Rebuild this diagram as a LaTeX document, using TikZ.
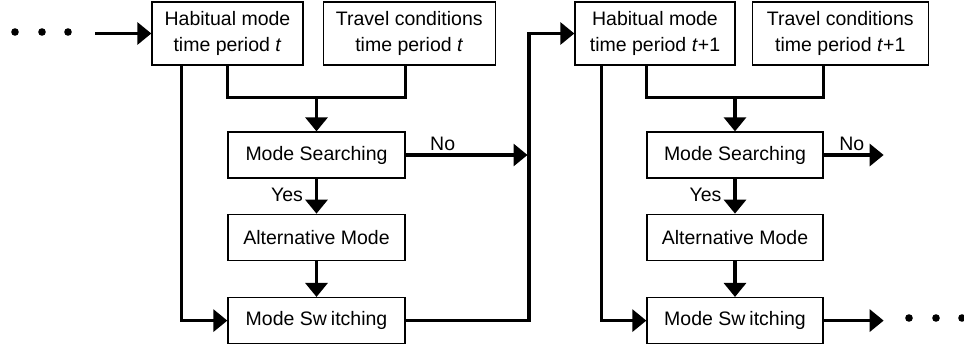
\documentclass[tikz,border=0pt]{standalone}
\usepackage{fontspec}
\setmainfont{Liberation Sans}
\usetikzlibrary{positioning,arrows.meta}

\begin{document}
\begin{tikzpicture}[x=1pt, y=1pt, font=\fontsize{19.5}{26}\selectfont,
  box/.style={draw, line width=1.3pt, align=center, inner sep=0pt},
  top box/.style={box, minimum height=63pt},
  mid box/.style={box, minimum width=177pt, minimum height=46pt},
  wire/.style={line width=3.2pt},
  flow/.style={wire, -{Triangle[length=14pt, width=22pt]}},
  tag/.style={inner sep=1pt}]
  \useasboundingbox (0,0) rectangle (964,-343);

  % time period t
  \node[top box, minimum width=151pt] (hab1) at (227.5,-33.5) {Habitual mode\\time period \textit{t}};
  \node[top box, minimum width=172pt] (trav1) [right=19pt of hab1] {Travel conditions\\time period \textit{t}};
  \node[mid box] (srch1) at (316.5,-155) {Mode Searching};
  \node[mid box] (alt1) [below=35pt of srch1] {Alternative Mode};
  \node[mid box] (sw1) [below=36pt of alt1] {Mode Sw\kern4pt itching};

  % time period t+1
  \node[top box, minimum width=160pt] (hab2) at (655,-33.5) {Habitual mode\\time period \textit{t}+1};
  \node[top box, minimum width=176pt] (trav2) [right=16pt of hab2] {Travel conditions\\time period \textit{t}+1};
  \node[mid box, minimum width=176pt] (srch2) at (735,-155) {Mode Searching};
  \node[mid box, minimum width=176pt] (alt2) [below=35pt of srch2] {Alternative Mode};
  \node[mid box, minimum width=176pt] (sw2) [below=36pt of alt2] {Mode Sw\kern4pt itching};

  \coordinate (inL) at (95,-33.5);
  \coordinate (bus) at (529,0);
  \coordinate[above=34pt of srch1] (j1);
  \coordinate[above=34pt of srch2] (j2);
  \coordinate[right=60pt of srch2] (noR);
  \coordinate[right=60pt of sw2] (outR);

  \foreach \x in {15,42,68}
    \fill (\x,-32) circle (3.8pt);
  \foreach \x in {909,936,962}
    \fill (\x,-318) circle (3.8pt);

  \draw[flow] (inL) -- (hab1);
  \draw[wire] (srch1.west |- hab1.south) |- (j1) -| (srch1.east |- trav1.south);
  \draw[flow] (j1) -- (srch1);
  \draw[flow] (srch1) -- node[tag, left=11pt, pos=0.45] {Yes} (alt1);
  \draw[flow] (alt1) -- (sw1);
  \draw[flow] ([xshift=30pt]hab1.south west) |- (sw1);
  \draw[flow, shorten >=1.5pt] (srch1) -- node[tag, above=2pt, pos=0.3] {No} (srch1 -| bus);
  \draw[flow] (sw1) -- (sw1 -| bus) |- (hab2);

  \draw[wire] (srch2.west |- hab2.south) |- (j2) -| (srch2.east |- trav2.south);
  \draw[flow] (j2) -- (srch2);
  \draw[flow] (srch2) -- node[tag, left=11pt, pos=0.45] {Yes} (alt2);
  \draw[flow] (alt2) -- (sw2);
  \draw[flow] ([xshift=27pt]hab2.south west) |- (sw2);
  \draw[flow] (srch2) -- node[tag, above=2pt, pos=0.47] {No} (noR);
  \draw[flow] (sw2) -- (outR);
\end{tikzpicture}
\end{document}
